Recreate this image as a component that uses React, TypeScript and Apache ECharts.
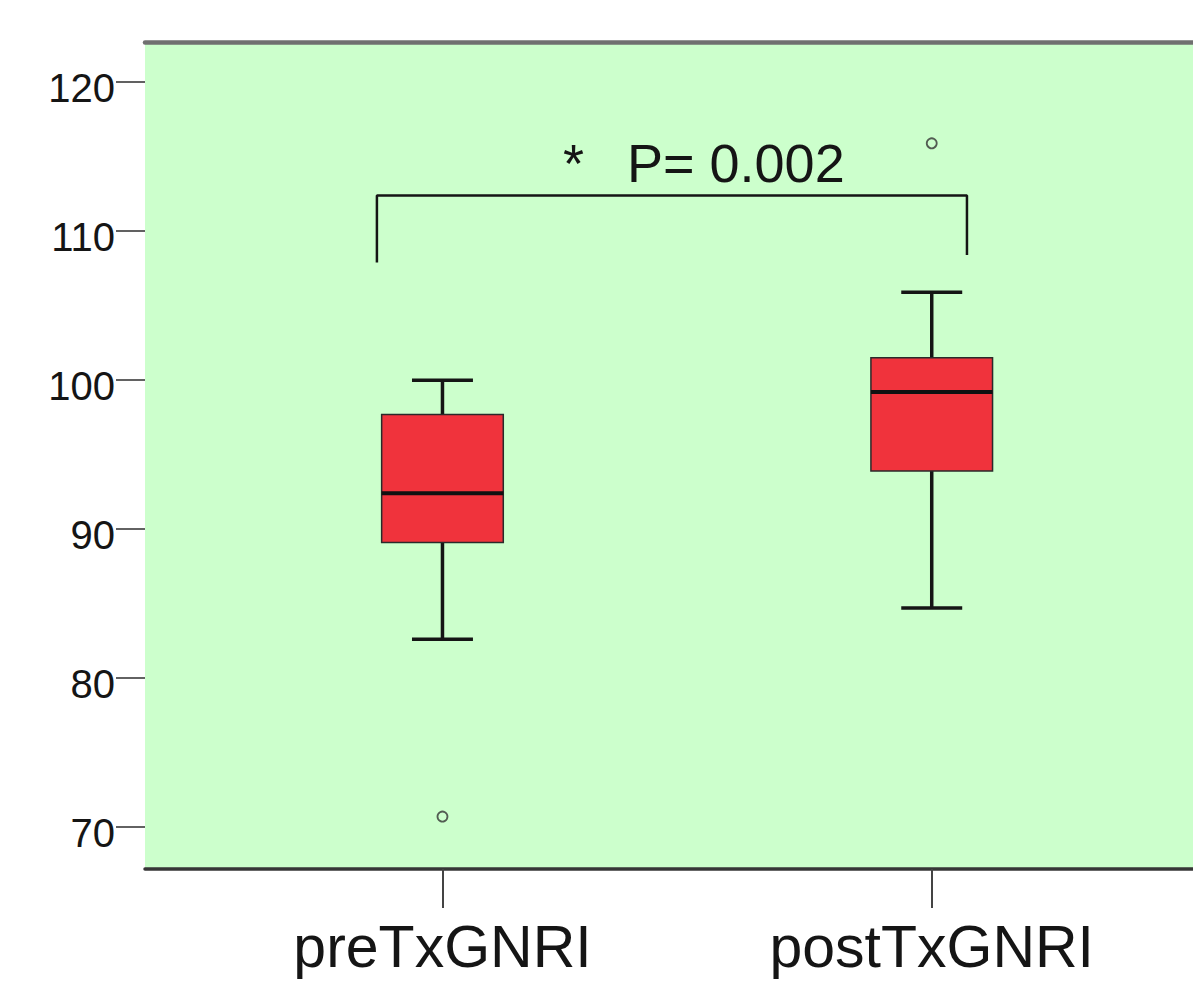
import React, { useEffect, useRef } from "react";
import * as echarts from "echarts";

// ---- data ----
const categories = ["preTxGNRI", "postTxGNRI"];
const categoryPos = [1, 2];
// [position, min, Q1, median, Q3, max]
const preStats = [1, 82.6, 89.1, 92.4, 97.7, 100.0];
const postStats = [2, 84.7, 93.9, 99.2, 101.5, 105.9];
const outliers = [
  [1, 70.7],
  [2, 115.9],
];
const yTicks = [70, 80, 90, 100, 110, 120];
const bracketX = [0.866, 2.072];
const bracketY = [107.9, 112.4, 108.4]; // left foot, top, right foot
const annotationStar = "*";
const annotationText = "P= 0.002";

// ---- layout constants ----
const X_MIN = 0.392;
const X_MAX = 2.534;
const Y_MIN = 67.18;
const Y_MAX = 122.7;
const BOX_HALF = 0.1243;
const CAP_HALF = 0.0623;
const FONT = "'Liberation Sans', Arial, Helvetica, sans-serif";
const INK = "#151515";

export default function App() {
  const ref = useRef<HTMLDivElement>(null);

  useEffect(() => {
    if (!ref.current) return;
    const chart = echarts.init(ref.current, undefined, { renderer: "svg" });

    const bracketData = [
      [bracketX[0], bracketY[0]],
      [bracketX[0], bracketY[1]],
      [bracketX[1], bracketY[1]],
      [bracketX[1], bracketY[2]],
    ];

    const option: any = {
      animation: false,
      backgroundColor: "#ffffff",
      grid: {
        left: 145,
        right: 0,
        top: 42,
        bottom: 112,
        show: true,
        backgroundColor: "#CCFFCC",
        borderWidth: 0,
      },
      xAxis: [
        {
          type: "value",
          min: X_MIN,
          max: X_MAX,
          position: "bottom",
          splitLine: { show: false },
          axisLine: { show: true, lineStyle: { color: "#363636", width: 3.5 } },
          axisTick: {
            show: true,
            customValues: categoryPos,
            length: 39,
            lineStyle: { color: "#444", width: 2 },
          },
          axisLabel: {
            show: true,
            customValues: categoryPos,
            formatter: (v: number) => categories[Math.round(v) - 1] ?? "",
            fontSize: 59,
            lineHeight: 56,
            fontFamily: FONT,
            color: INK,
            margin: 50,
          },
        },
        {
          type: "value",
          min: X_MIN,
          max: X_MAX,
          position: "top",
          splitLine: { show: false },
          axisLine: { show: true, lineStyle: { color: "#707070", width: 4.5 } },
          axisTick: { show: false },
          axisLabel: { show: false },
        },
      ],
      yAxis: {
        type: "value",
        min: Y_MIN,
        max: Y_MAX,
        splitLine: { show: false },
        axisLine: { show: false },
        axisTick: {
          show: true,
          customValues: yTicks,
          length: 29,
          lineStyle: { color: "#3a3a3a", width: 1.6 },
        },
        axisLabel: {
          show: true,
          customValues: yTicks,
          fontSize: 40,
          fontFamily: FONT,
          color: INK,
          margin: 30,
          verticalAlign: "top",
          lineHeight: 12,
        },
      },
      series: [
        {
          type: "custom",
          xAxisIndex: 0,
          yAxisIndex: 0,
          data: [preStats, postStats],
          encode: { x: 0, y: [1, 2, 3, 4, 5] },
          renderItem: (params: any, api: any) => {
            const x = api.value(0);
            const pMin = api.coord([x, api.value(1)]);
            const pQ1 = api.coord([x, api.value(2)]);
            const pMed = api.coord([x, api.value(3)]);
            const pQ3 = api.coord([x, api.value(4)]);
            const pMax = api.coord([x, api.value(5)]);
            const half = api.size([BOX_HALF, 0])[0];
            const cap = api.size([CAP_HALF, 0])[0];
            const cx = pMin[0];
            const lineStyle = { stroke: INK, lineWidth: 3.5 };
            return {
              type: "group",
              children: [
                { type: "line", shape: { x1: cx, y1: pMax[1], x2: cx, y2: pQ3[1] }, style: lineStyle },
                { type: "line", shape: { x1: cx, y1: pQ1[1], x2: cx, y2: pMin[1] }, style: lineStyle },
                { type: "line", shape: { x1: cx - cap, y1: pMax[1], x2: cx + cap, y2: pMax[1] }, style: lineStyle },
                { type: "line", shape: { x1: cx - cap, y1: pMin[1], x2: cx + cap, y2: pMin[1] }, style: lineStyle },
                {
                  type: "rect",
                  shape: { x: cx - half, y: pQ3[1], width: half * 2, height: pQ1[1] - pQ3[1] },
                  style: { fill: "#F0333C", stroke: "#2a2a2a", lineWidth: 1.5 },
                },
                {
                  type: "line",
                  shape: { x1: cx - half, y1: pMed[1], x2: cx + half, y2: pMed[1] },
                  style: { stroke: "#111", lineWidth: 4 },
                },
              ],
            };
          },
        },
        {
          type: "scatter",
          data: outliers,
          symbol: "circle",
          symbolSize: 10,
          itemStyle: { color: "rgba(0,0,0,0)", borderColor: "#333", borderWidth: 1.8 },
        },
        {
          type: "line",
          data: bracketData,
          symbol: "none",
          lineStyle: { color: INK, width: 2.5 },
        },
      ],
      graphic: [
        {
          type: "text",
          left: 563,
          top: 136,
          style: { text: annotationStar, fontSize: 54, fontFamily: FONT, fill: INK },
        },
        {
          type: "text",
          left: 627,
          top: 136,
          style: { text: annotationText, fontSize: 54, fontFamily: FONT, fill: INK },
        },
      ],
    };

    chart.setOption(option);
    return () => chart.dispose();
  }, []);

  return (
    <div
      ref={ref}
      style={{ position: "absolute", left: 0, top: 0, width: 1193, height: 981 }}
    />
  );
}
